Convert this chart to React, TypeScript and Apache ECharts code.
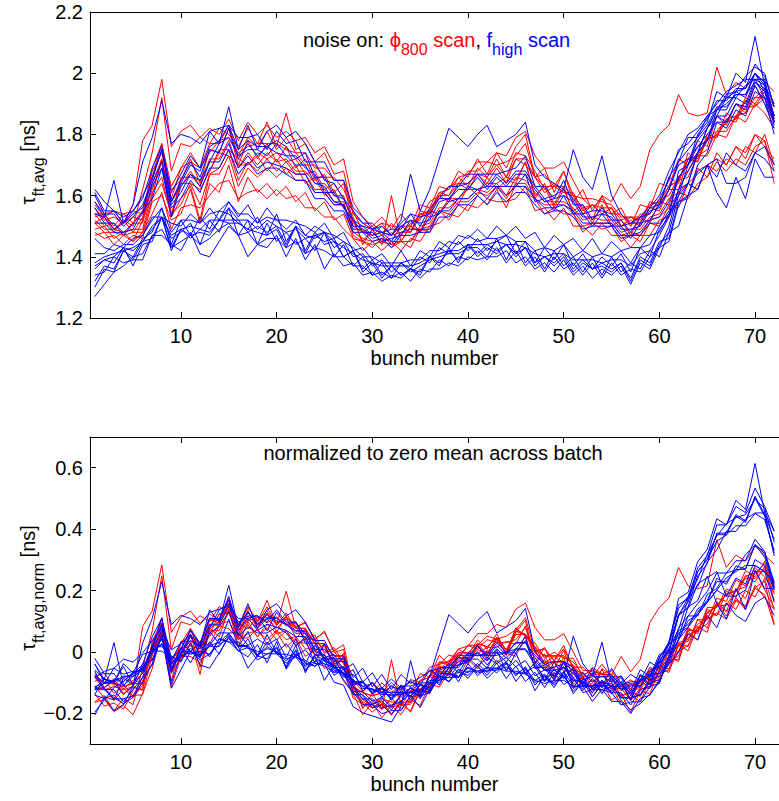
import { useEffect, useRef } from 'react';
import * as echarts from 'echarts';

// Bunch index along the batch
const BUNCH_NUMBERS: number[] = Array.from({ length: 72 }, (_, i) => i + 1);
const X_TICKS = [10, 20, 30, 40, 50, 60, 70];
const TAU_TICKS = [1.2, 1.4, 1.6, 1.8, 2, 2.2];
const NORM_TICKS = [-0.2, 0, 0.2, 0.4, 0.6];

// tau_ft,avg [ns] per bunch, noise applied on the phi_800 scan
const PHI800_SCAN_RUNS: number[][] = [
  [1.56,1.52,1.53,1.51,1.57,1.78,1.83,1.98,1.76,1.81,
   1.83,1.79,1.82,1.80,1.85,1.78,1.84,1.80,1.83,1.79,
   1.81,1.78,1.79,1.74,1.76,1.70,1.72,1.58,1.53,1.50,
   1.53,1.49,1.54,1.50,1.57,1.56,1.63,1.62,1.68,1.66,
   1.72,1.67,1.74,1.69,1.76,1.80,1.66,1.69,1.61,1.68,
   1.58,1.62,1.55,1.60,1.54,1.56,1.50,1.57,1.56,1.64,
   1.63,1.72,1.70,1.78,1.76,1.86,1.83,1.90,1.87,1.96,
   1.90,1.84],
  [1.51,1.53,1.48,1.52,1.50,1.62,1.74,1.92,1.68,1.77,
   1.76,1.79,1.77,1.82,1.80,1.76,1.82,1.77,1.84,1.76,
   1.87,1.75,1.77,1.71,1.74,1.67,1.68,1.54,1.51,1.49,
   1.51,1.47,1.50,1.48,1.55,1.54,1.61,1.60,1.66,1.63,
   1.69,1.66,1.72,1.66,1.74,1.73,1.68,1.62,1.64,1.61,
   1.61,1.55,1.57,1.54,1.56,1.50,1.53,1.51,1.58,1.57,
   1.66,1.64,1.74,1.71,1.80,1.79,1.87,1.85,1.92,1.90,
   1.95,1.84],
  [1.49,1.50,1.46,1.48,1.45,1.52,1.60,1.72,1.54,1.64,
   1.64,1.62,1.68,1.74,1.73,1.70,1.70,1.73,1.68,1.72,
   1.67,1.70,1.64,1.66,1.60,1.62,1.56,1.52,1.45,1.49,
   1.44,1.48,1.45,1.50,1.48,1.55,1.54,1.59,1.57,1.63,
   1.60,1.66,1.62,1.65,1.64,1.71,1.60,1.63,1.56,1.62,
   1.55,1.57,1.52,1.60,1.58,1.64,1.59,1.63,1.75,1.80,
   1.83,1.93,1.87,1.86,1.87,2.02,1.93,1.97,1.95,2.00,
   1.97,1.94],
  [1.48,1.46,1.47,1.44,1.47,1.46,1.58,1.60,1.52,1.54,
   1.62,1.51,1.64,1.61,1.70,1.58,1.66,1.61,1.64,1.60,
   1.63,1.58,1.61,1.55,1.58,1.52,1.54,1.46,1.45,1.43,
   1.46,1.43,1.45,1.43,1.49,1.48,1.55,1.52,1.57,1.55,
   1.60,1.57,1.62,1.56,1.64,1.61,1.59,1.54,1.56,1.54,
   1.54,1.48,1.51,1.49,1.50,1.45,1.47,1.45,1.51,1.50,
   1.57,1.56,1.64,1.62,1.70,1.68,1.72,1.70,1.76,1.74,
   1.80,1.70],
  [1.57,1.53,1.55,1.51,1.53,1.52,1.68,1.74,1.62,1.65,
   1.72,1.64,1.75,1.74,1.82,1.70,1.78,1.72,1.77,1.71,
   1.76,1.69,1.72,1.65,1.67,1.61,1.64,1.51,1.49,1.47,
   1.50,1.47,1.50,1.48,1.54,1.53,1.60,1.58,1.64,1.62,
   1.67,1.64,1.69,1.64,1.72,1.70,1.66,1.61,1.63,1.61,
   1.60,1.54,1.57,1.54,1.56,1.50,1.52,1.50,1.56,1.55,
   1.62,1.62,1.72,1.71,1.79,1.79,1.85,1.84,1.91,1.89,
   1.94,1.85],
  [1.53,1.54,1.49,1.52,1.48,1.53,1.62,1.71,1.53,1.66,
   1.66,1.65,1.68,1.75,1.75,1.72,1.70,1.74,1.72,1.74,
   1.71,1.72,1.67,1.68,1.62,1.64,1.59,1.53,1.44,1.49,
   1.44,1.60,1.45,1.50,1.48,1.55,1.54,1.59,1.59,1.62,
   1.62,1.64,1.64,1.66,1.65,1.71,1.59,1.64,1.57,1.63,
   1.54,1.56,1.51,1.57,1.50,1.52,1.47,1.53,1.51,1.58,
   1.57,1.65,1.66,1.73,1.73,1.80,1.79,1.86,1.84,1.90,
   1.87,1.82],
  [1.52,1.49,1.49,1.48,1.49,1.49,1.61,1.66,1.53,1.59,
   1.63,1.52,1.67,1.69,1.75,1.65,1.71,1.68,1.72,1.68,
   1.71,1.67,1.67,1.62,1.62,1.58,1.58,1.48,1.46,1.45,
   1.46,1.45,1.45,1.45,1.50,1.51,1.56,1.56,1.59,1.59,
   1.62,1.61,1.64,1.60,1.66,1.65,1.61,1.58,1.58,1.58,
   1.56,1.52,1.53,1.52,1.52,1.48,1.49,1.49,1.53,1.54,
   1.59,1.61,1.64,1.67,1.70,1.72,1.70,1.76,1.74,1.80,
   1.78,1.68],
  [1.54,1.50,1.51,1.48,1.51,1.51,1.64,1.72,1.58,1.63,
   1.68,1.63,1.72,1.72,1.78,1.69,1.74,1.70,1.74,1.71,
   1.72,1.68,1.68,1.64,1.64,1.60,1.60,1.50,1.48,1.47,
   1.48,1.47,1.48,1.48,1.53,1.55,1.61,1.62,1.66,1.67,
   1.71,1.71,1.74,1.73,1.79,1.81,1.73,1.69,1.69,1.71,
   1.65,1.59,1.59,1.58,1.57,1.53,1.53,1.53,1.57,1.58,
   1.63,1.65,1.72,1.72,1.78,1.80,1.84,1.85,1.89,1.89,
   1.92,1.84],
  [1.58,1.54,1.55,1.54,1.55,1.54,1.69,1.77,1.63,1.69,
   1.74,1.69,1.77,1.77,1.83,1.73,1.79,1.76,1.81,1.75,
   1.79,1.74,1.74,1.69,1.69,1.65,1.65,1.54,1.51,1.49,
   1.51,1.50,1.50,1.50,1.54,1.55,1.60,1.60,1.64,1.64,
   1.67,1.66,1.70,1.66,1.72,1.72,1.66,1.63,1.63,1.63,
   1.60,1.56,1.57,1.56,1.56,1.52,1.53,1.52,1.57,1.58,
   1.63,1.65,1.72,1.73,1.79,1.81,1.85,1.86,1.91,1.92,
   1.95,1.89],
  [1.51,1.48,1.48,1.47,1.48,1.48,1.59,1.64,1.54,1.57,
   1.64,1.57,1.67,1.67,1.73,1.63,1.69,1.66,1.69,1.66,
   1.69,1.65,1.65,1.61,1.61,1.57,1.57,1.47,1.45,1.44,
   1.45,1.44,1.45,1.45,1.49,1.50,1.55,1.54,1.58,1.58,
   1.61,1.60,1.63,1.59,1.64,1.64,1.59,1.57,1.57,1.57,
   1.54,1.50,1.51,1.51,1.51,1.47,1.48,1.47,1.52,1.53,
   1.56,1.61,1.60,1.69,1.66,1.74,1.70,1.76,1.72,1.80,
   1.76,1.72],
  [1.54,1.54,1.50,1.54,1.51,1.55,1.66,1.77,1.59,1.69,
   1.71,1.69,1.74,1.78,1.79,1.74,1.76,1.77,1.77,1.77,
   1.75,1.74,1.70,1.70,1.66,1.66,1.62,1.55,1.48,1.50,
   1.47,1.51,1.47,1.51,1.52,1.58,1.60,1.63,1.64,1.68,
   1.68,1.71,1.70,1.71,1.73,1.77,1.66,1.67,1.63,1.68,
   1.60,1.59,1.56,1.59,1.54,1.54,1.50,1.54,1.54,1.59,
   1.60,1.66,1.68,1.73,1.75,1.81,1.81,1.86,1.87,1.92,
   1.92,1.89],
  [1.47,1.48,1.44,1.47,1.45,1.48,1.54,1.61,1.49,1.56,
   1.57,1.56,1.60,1.64,1.65,1.59,1.61,1.62,1.59,1.62,
   1.59,1.60,1.56,1.56,1.53,1.53,1.49,1.46,1.42,1.45,
   1.42,1.45,1.42,1.46,1.45,1.50,1.51,1.54,1.53,1.57,
   1.56,1.59,1.58,1.58,1.59,1.63,1.55,1.56,1.52,1.56,
   1.50,1.50,1.47,1.51,1.47,1.47,1.43,1.47,1.47,1.52,
   1.53,1.58,1.59,1.64,1.66,1.71,1.68,1.72,1.70,1.76,
   1.78,1.64],
];

// tau_ft,avg [ns] per bunch, noise applied on the f_high scan
const FHIGH_SCAN_RUNS: number[][] = [
  [1.54,1.53,1.49,1.51,1.57,1.71,1.79,1.91,1.77,1.80,
   1.79,1.77,1.81,1.82,1.83,1.79,1.79,1.80,1.75,1.81,
   1.77,1.78,1.71,1.71,1.65,1.64,1.59,1.55,1.51,1.51,
   1.48,1.49,1.49,1.54,1.50,1.56,1.59,1.63,1.63,1.67,
   1.67,1.67,1.67,1.68,1.69,1.73,1.63,1.63,1.59,1.65,
   1.57,1.57,1.52,1.56,1.52,1.52,1.48,1.53,1.54,1.59,
   1.65,1.75,1.77,1.81,1.85,1.91,1.91,1.95,1.95,2.03,
   1.99,1.89],
  [1.61,1.55,1.55,1.51,1.55,1.59,1.69,1.76,1.61,1.67,
   1.73,1.69,1.81,1.77,1.89,1.75,1.83,1.75,1.81,1.83,
   1.79,1.81,1.77,1.71,1.71,1.65,1.65,1.56,1.53,1.49,
   1.50,1.47,1.51,1.54,1.53,1.54,1.59,1.59,1.63,1.64,
   1.67,1.63,1.67,1.64,1.68,1.68,1.63,1.59,1.60,1.62,
   1.59,1.54,1.55,1.55,1.54,1.50,1.51,1.51,1.56,1.57,
   1.66,1.71,1.79,1.79,1.86,1.88,1.93,1.94,1.99,2.02,
   2.00,1.89],
  [1.62,1.58,1.55,1.53,1.55,1.60,1.66,1.75,1.58,1.64,
   1.70,1.68,1.76,1.78,1.83,1.75,1.78,1.76,1.76,1.78,
   1.76,1.72,1.74,1.66,1.66,1.60,1.59,1.52,1.50,1.49,
   1.48,1.47,1.52,1.67,1.55,1.62,1.72,1.82,1.79,1.76,
   1.80,1.83,1.76,1.78,1.80,1.84,1.70,1.66,1.64,1.62,
   1.75,1.66,1.62,1.73,1.60,1.54,1.51,1.53,1.56,1.60,
   1.68,1.74,1.80,1.82,1.86,1.90,1.94,1.96,1.98,1.98,
   1.96,1.86],
  [1.58,1.53,1.65,1.51,1.54,1.56,1.64,1.71,1.57,1.61,
   1.67,1.63,1.71,1.71,1.77,1.69,1.73,1.69,1.71,1.70,
   1.69,1.67,1.67,1.61,1.61,1.57,1.57,1.49,1.49,1.46,
   1.47,1.44,1.48,1.49,1.49,1.49,1.55,1.55,1.59,1.59,
   1.62,1.59,1.63,1.60,1.63,1.63,1.59,1.56,1.56,1.57,
   1.55,1.51,1.51,1.51,1.51,1.47,1.47,1.48,1.52,1.53,
   1.58,1.66,1.70,1.76,1.78,1.86,1.84,1.90,1.89,1.97,
   1.94,1.83],
  [1.56,1.51,1.51,1.47,1.51,1.54,1.63,1.69,1.56,1.59,
   1.65,1.61,1.69,1.69,1.75,1.67,1.71,1.67,1.69,1.69,
   1.67,1.65,1.65,1.59,1.59,1.55,1.55,1.48,1.48,1.45,
   1.46,1.43,1.47,1.47,1.48,1.48,1.53,1.53,1.57,1.57,
   1.60,1.57,1.61,1.58,1.61,1.61,1.57,1.54,1.55,1.55,
   1.53,1.49,1.50,1.50,1.50,1.46,1.47,1.47,1.51,1.51,
   1.54,1.58,1.64,1.62,1.70,1.66,1.74,1.70,1.68,1.74,
   1.76,1.70],
  [1.51,1.51,1.48,1.48,1.49,1.55,1.59,1.69,1.53,1.63,
   1.67,1.65,1.71,1.77,1.79,1.73,1.75,1.75,1.73,1.77,
   1.73,1.73,1.69,1.67,1.61,1.61,1.56,1.52,1.48,1.48,
   1.45,1.46,1.47,1.52,1.48,1.53,1.54,1.58,1.59,1.63,
   1.62,1.63,1.63,1.63,1.63,1.67,1.58,1.59,1.55,1.60,
   1.54,1.54,1.50,1.54,1.50,1.50,1.46,1.51,1.52,1.57,
   1.62,1.71,1.75,1.79,1.83,1.89,1.89,1.93,1.93,2.00,
   1.96,1.86],
  [1.60,1.54,1.54,1.50,1.53,1.57,1.65,1.75,1.58,1.65,
   1.71,1.66,1.75,1.74,1.82,1.72,1.77,1.73,1.76,1.74,
   1.73,1.70,1.70,1.64,1.63,1.58,1.57,1.50,1.50,1.47,
   1.48,1.45,1.50,1.52,1.51,1.52,1.58,1.59,1.62,1.62,
   1.66,1.62,1.66,1.63,1.67,1.67,1.62,1.58,1.59,1.60,
   1.58,1.53,1.53,1.54,1.53,1.49,1.49,1.50,1.55,1.56,
   1.62,1.70,1.72,1.76,1.80,1.84,1.82,1.88,1.86,1.94,
   1.92,1.84],
  [1.30,1.36,1.35,1.42,1.40,1.46,1.48,1.56,1.44,1.52,
   1.47,1.53,1.49,1.55,1.54,1.51,1.49,1.53,1.47,1.54,
   1.45,1.50,1.47,1.46,1.48,1.43,1.45,1.40,1.41,1.37,
   1.39,1.35,1.38,1.36,1.40,1.38,1.43,1.41,1.45,1.42,
   1.46,1.42,1.45,1.47,1.41,1.45,1.38,1.43,1.39,1.44,
   1.37,1.41,1.36,1.40,1.37,1.41,1.35,1.43,1.40,1.49,
   1.53,1.68,1.70,1.80,1.84,1.94,1.92,2.00,1.97,2.12,
   1.96,1.90],
  [1.37,1.39,1.40,1.43,1.42,1.45,1.49,1.53,1.46,1.48,
   1.51,1.44,1.52,1.48,1.56,1.47,1.52,1.44,1.51,1.45,
   1.48,1.44,1.46,1.42,1.48,1.40,1.44,1.37,1.40,1.34,
   1.38,1.33,1.38,1.35,1.37,1.39,1.40,1.41,1.41,1.43,
   1.43,1.40,1.46,1.39,1.45,1.38,1.42,1.36,1.42,1.37,
   1.40,1.35,1.40,1.34,1.40,1.35,1.38,1.36,1.42,1.40,
   1.48,1.50,1.60,1.62,1.70,1.61,1.56,1.66,1.59,1.72,
   1.66,1.66],
  [1.27,1.31,1.35,1.37,1.40,1.41,1.47,1.49,1.43,1.45,
   1.47,1.44,1.46,1.49,1.51,1.47,1.48,1.44,1.46,1.46,
   1.43,1.45,1.41,1.43,1.42,1.40,1.40,1.37,1.37,1.34,
   1.35,1.33,1.35,1.32,1.36,1.35,1.39,1.37,1.40,1.39,
   1.42,1.39,1.43,1.38,1.42,1.37,1.40,1.35,1.40,1.36,
   1.38,1.34,1.38,1.33,1.38,1.34,1.36,1.35,1.40,1.43,
   1.50,1.62,1.64,1.74,1.78,1.88,1.88,1.94,1.92,2.00,
   1.94,1.86],
  [1.34,1.35,1.40,1.38,1.39,1.39,1.47,1.47,1.44,1.42,
   1.48,1.41,1.40,1.45,1.50,1.47,1.40,1.44,1.43,1.47,
   1.40,1.46,1.39,1.44,1.36,1.41,1.37,1.38,1.34,1.35,
   1.32,1.34,1.33,1.36,1.33,1.36,1.36,1.38,1.37,1.40,
   1.39,1.40,1.40,1.42,1.38,1.40,1.36,1.38,1.35,1.39,
   1.34,1.37,1.33,1.36,1.34,1.37,1.31,1.38,1.36,1.43,
   1.45,1.57,1.60,1.70,1.74,1.84,1.84,1.90,1.88,1.96,
   1.90,1.82],
  [1.38,1.40,1.41,1.42,1.43,1.45,1.50,1.53,1.47,1.49,
   1.50,1.49,1.52,1.52,1.56,1.52,1.52,1.49,1.52,1.50,
   1.48,1.49,1.46,1.47,1.48,1.45,1.43,1.41,1.39,1.38,
   1.37,1.37,1.37,1.37,1.38,1.40,1.41,1.42,1.42,1.44,
   1.44,1.44,1.45,1.44,1.44,1.43,1.41,1.40,1.41,1.41,
   1.39,1.39,1.39,1.38,1.39,1.39,1.37,1.41,1.42,1.47,
   1.53,1.62,1.68,1.74,1.82,1.88,1.92,1.94,1.95,2.00,
   1.97,1.86],
  [1.46,1.43,1.42,1.44,1.44,1.47,1.52,1.56,1.48,1.52,
   1.52,1.51,1.54,1.55,1.58,1.54,1.54,1.51,1.53,1.52,
   1.49,1.52,1.47,1.50,1.48,1.47,1.45,1.43,1.40,1.40,
   1.38,1.38,1.38,1.39,1.39,1.42,1.42,1.45,1.44,1.47,
   1.45,1.46,1.46,1.47,1.45,1.45,1.42,1.43,1.42,1.44,
   1.40,1.42,1.40,1.41,1.40,1.42,1.38,1.43,1.44,1.50,
   1.55,1.66,1.70,1.78,1.82,1.88,1.90,1.93,1.93,1.97,
   1.95,1.85],
  [1.32,1.37,1.36,1.42,1.39,1.45,1.46,1.53,1.43,1.49,
   1.46,1.49,1.48,1.52,1.52,1.52,1.48,1.50,1.48,1.50,
   1.44,1.50,1.42,1.48,1.44,1.45,1.40,1.42,1.36,1.39,
   1.34,1.37,1.34,1.36,1.35,1.40,1.38,1.42,1.39,1.44,
   1.41,1.44,1.42,1.44,1.41,1.43,1.38,1.40,1.38,1.41,
   1.36,1.39,1.36,1.38,1.36,1.38,1.33,1.40,1.38,1.45,
   1.46,1.58,1.60,1.68,1.70,1.72,1.64,1.64,1.66,1.74,
   1.72,1.68],
  [1.36,1.39,1.38,1.43,1.37,1.44,1.45,1.53,1.42,1.49,
   1.47,1.48,1.47,1.52,1.51,1.51,1.49,1.48,1.47,1.49,
   1.43,1.50,1.41,1.47,1.45,1.46,1.40,1.42,1.35,1.38,
   1.33,1.37,1.34,1.36,1.34,1.40,1.37,1.43,1.38,1.44,
   1.40,1.43,1.41,1.44,1.40,1.43,1.37,1.40,1.37,1.40,
   1.35,1.38,1.36,1.37,1.35,1.38,1.32,1.39,1.37,1.44,
   1.48,1.60,1.64,1.74,1.78,1.86,1.86,1.92,1.90,1.98,
   1.92,1.80],
  [1.41,1.41,1.44,1.43,1.46,1.47,1.53,1.53,1.51,1.50,
   1.54,1.51,1.56,1.52,1.58,1.53,1.57,1.51,1.56,1.52,
   1.52,1.51,1.50,1.48,1.51,1.46,1.48,1.42,1.43,1.39,
   1.41,1.37,1.42,1.37,1.42,1.40,1.45,1.43,1.47,1.46,
   1.49,1.46,1.50,1.47,1.50,1.46,1.48,1.43,1.47,1.44,
   1.46,1.42,1.46,1.41,1.45,1.42,1.43,1.43,1.47,1.48,
   1.54,1.60,1.70,1.74,1.82,1.86,1.92,1.92,1.96,1.98,
   1.98,1.84],
];

const RED = '#ff0000';
const BLUE = '#0000ff';
const FONT = '"Liberation Sans", Arial, Helvetica, sans-serif';

// Subtract each run's own mean over the batch
const zeroMean = (run: number[]) => {
  const m = run.reduce((s, v) => s + v, 0) / run.length;
  return run.map((v) => v - m);
};

const toPoints = (run: number[]) => run.map((v, i) => [BUNCH_NUMBERS[i], v]);

const runSeries = (run: number[], color: string, panel: number) => ({
  type: 'line',
  xAxisIndex: panel * 2,
  yAxisIndex: panel,
  data: toPoints(run),
  symbol: 'none',
  showSymbol: false,
  silent: true,
  clip: true,
  lineStyle: { color, width: 1 },
  emphasis: { disabled: true },
});

const tickStyle = { color: '#000', width: 1 };

const xAxisFor = (gridIndex: number, position: 'top' | 'bottom') => ({
  type: 'value',
  gridIndex,
  position,
  min: 0.5,
  max: 72.5,
  axisLine: { show: true, onZero: false, lineStyle: tickStyle },
  axisTick: { show: true, inside: true, length: 6, customValues: X_TICKS, lineStyle: tickStyle },
  axisLabel: {
    show: position === 'bottom',
    customValues: X_TICKS,
    color: '#000',
    fontSize: 20,
    fontFamily: FONT,
    margin: 8,
  },
  splitLine: { show: false },
  name: position === 'bottom' ? 'bunch number' : '',
  nameLocation: 'middle',
  nameGap: 30,
  nameTextStyle: { color: '#000', fontSize: 20, fontFamily: FONT },
});

const yAxisFor = (gridIndex: number, min: number, max: number, ticks: number[]) => ({
  type: 'value',
  gridIndex,
  position: 'left',
  min,
  max,
  axisLine: { show: true, onZero: false, lineStyle: tickStyle },
  axisTick: { show: true, inside: true, length: 6, customValues: ticks, lineStyle: tickStyle },
  axisLabel: {
    customValues: ticks,
    color: '#000',
    fontSize: 20,
    fontFamily: FONT,
    margin: 7,
    formatter: (v: number) => (v < 0 ? '\u2212' + String(Math.abs(v)) : String(v)),
  },
  splitLine: { show: false },
});

// Rich-text styles: main glyphs hang from the top, subscripts sit lower
const mainTok = (fill: string) => ({
  fill, fontSize: 20, fontFamily: FONT, height: 20, verticalAlign: 'top',
});
const subTok = (fill: string) => ({
  fill, fontSize: 16, fontFamily: FONT, height: 16, lineHeight: 28, verticalAlign: 'bottom',
});

const yTitle = (y: number, sub: string) => ({
  type: 'text',
  x: 32,
  y,
  rotation: Math.PI / 2,
  silent: true,
  style: {
    text: `{m|\u03c4}{s|${sub}}{m| [ns]}`,
    textAlign: 'center',
    textVerticalAlign: 'middle',
    rich: { m: mainTok('#000'), s: subTok('#000') },
  },
});

export default function App() {
  const ref = useRef<HTMLDivElement>(null);

  useEffect(() => {
    if (!ref.current) return;
    const chart = echarts.init(ref.current, null, { renderer: 'svg' });

    const series: any[] = [];
    PHI800_SCAN_RUNS.forEach((r) => series.push(runSeries(r, RED, 0)));
    FHIGH_SCAN_RUNS.forEach((r) => series.push(runSeries(r, BLUE, 0)));
    PHI800_SCAN_RUNS.forEach((r) => series.push(runSeries(zeroMean(r), RED, 1)));
    FHIGH_SCAN_RUNS.forEach((r) => series.push(runSeries(zeroMean(r), BLUE, 1)));

    chart.setOption({
      animation: false,
      backgroundColor: '#fff',
      grid: [
        { left: 90, top: 12, width: 697, height: 306, containLabel: false },
        { left: 90, top: 437, width: 697, height: 307, containLabel: false },
      ],
      xAxis: [
        xAxisFor(0, 'bottom'),
        xAxisFor(0, 'top'),
        xAxisFor(1, 'bottom'),
        xAxisFor(1, 'top'),
      ],
      yAxis: [
        yAxisFor(0, 1.2, 2.2, TAU_TICKS),
        yAxisFor(1, -0.3, 0.7, NORM_TICKS),
      ],
      series,
      graphic: [
        yTitle(162, 'ft,avg'),
        yTitle(588, 'ft,avg,norm'),
        {
          type: 'text',
          x: 303,
          y: 29.5,
          silent: true,
          style: {
            text: '{k|noise on: }{r|\u03d5}{rs|800}{r| scan}{k|, }{b|f}{bs|high}{b| scan}',
            textAlign: 'left',
            textVerticalAlign: 'top',
            rich: {
              k: mainTok('#000'),
              r: mainTok(RED),
              rs: subTok(RED),
              b: mainTok(BLUE),
              bs: subTok(BLUE),
            },
          },
        },
        {
          type: 'text',
          x: 433,
          y: 453,
          silent: true,
          style: {
            text: 'normalized to zero mean across batch',
            fill: '#000',
            font: `20px ${FONT}`,
            textAlign: 'center',
            textVerticalAlign: 'middle',
          },
        },
      ],
    });

    return () => chart.dispose();
  }, []);

  return (
    <div
      ref={ref}
      style={{ position: 'absolute', left: 0, top: 0, width: 779, height: 801, background: '#fff' }}
    />
  );
}
